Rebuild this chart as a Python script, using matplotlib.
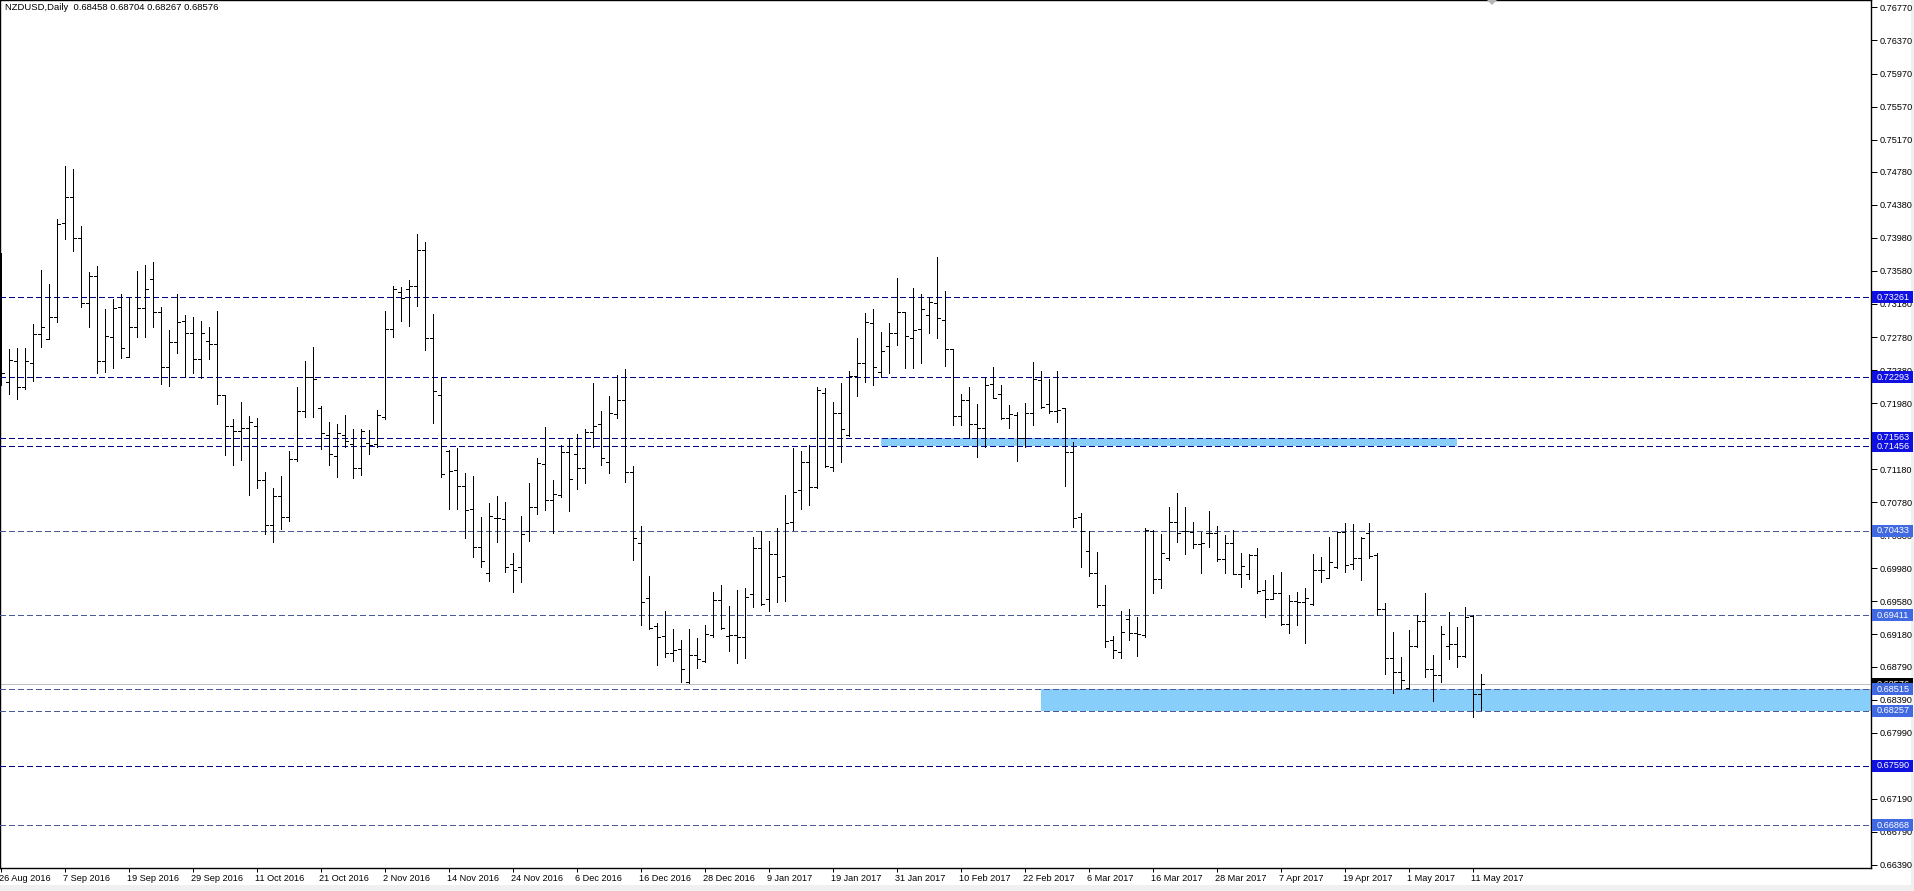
import matplotlib
matplotlib.use("Agg")
import matplotlib.pyplot as plt
import matplotlib.transforms as mtransforms
from matplotlib.collections import LineCollection
from matplotlib.patches import Rectangle, Polygon
import numpy as np

plt.rcParams['font.family'] = ['Liberation Sans', 'DejaVu Sans']

symbol = "NZDUSD,Daily"

# daily bars, 26 Aug 2016 .. 12 May 2017
opens = [
    0.72400, 0.72232, 0.72490, 0.72179, 0.72462, 0.72813, 0.72752, 0.73027, 0.74157, 0.74480,
    0.73975, 0.73196, 0.73519, 0.72490, 0.72785, 0.73140, 0.72534, 0.72898, 0.73128, 0.73479,
    0.73087, 0.72421, 0.72724, 0.72974, 0.72825, 0.72510, 0.72736, 0.72696, 0.72078, 0.71703,
    0.71642, 0.71675, 0.71700, 0.71050, 0.70500, 0.70850, 0.70600, 0.71300, 0.71884, 0.72300,
    0.71917, 0.71594, 0.71340, 0.71594, 0.71485, 0.71190, 0.71493, 0.71485, 0.71816, 0.72873,
    0.73321, 0.73358, 0.73398, 0.73834, 0.72764, 0.72078, 0.71404, 0.71170, 0.70980, 0.70694,
    0.70234, 0.69927, 0.70593, 0.70577, 0.70032, 0.69992, 0.70435, 0.70718, 0.71239, 0.70807,
    0.70867, 0.71384, 0.71360, 0.71190, 0.71630, 0.71723, 0.71263, 0.71848, 0.72018, 0.71150,
    0.70282, 0.69617, 0.69282, 0.69160, 0.68951, 0.68999, 0.68608, 0.68930, 0.68858, 0.69173,
    0.69596, 0.69160, 0.69173, 0.69144, 0.69669, 0.70222, 0.69604, 0.70149, 0.69887, 0.70537,
    0.70928, 0.71263, 0.70969, 0.72107, 0.71203, 0.71857, 0.71594, 0.72309, 0.72462, 0.72954,
    0.72353, 0.72676, 0.72825, 0.73079, 0.72772, 0.72873, 0.73046, 0.73188, 0.72982, 0.72631,
    0.71824, 0.72013, 0.71731, 0.71674, 0.72207, 0.72086, 0.71795, 0.71836, 0.71561, 0.71856,
    0.72259, 0.71965, 0.71884, 0.71916, 0.71392, 0.70605, 0.70189, 0.69919, 0.69535, 0.69111,
    0.68970, 0.69366, 0.69192, 0.69172, 0.70431, 0.69850, 0.70100, 0.70536, 0.70431, 0.70423,
    0.70270, 0.70403, 0.70403, 0.70088, 0.70290, 0.69907, 0.69907, 0.70141, 0.69717, 0.69608,
    0.69677, 0.69301, 0.69584, 0.69576, 0.69543, 0.69959, 0.69866, 0.70000, 0.70423, 0.70028,
    0.70100, 0.70411, 0.70141, 0.69483, 0.68890, 0.68720, 0.68526, 0.69039, 0.69342, 0.68757,
    0.68688, 0.69039, 0.69063, 0.68918, 0.69406, 0.68458,
]
highs = [
    0.73794, 0.72631, 0.72643, 0.72643, 0.72938, 0.73592, 0.73422, 0.74205, 0.74851, 0.74811,
    0.74125, 0.73564, 0.73640, 0.73120, 0.73241, 0.73301, 0.73261, 0.73580, 0.73652, 0.73685,
    0.73140, 0.72865, 0.73301, 0.73047, 0.73019, 0.72974, 0.72898, 0.73095, 0.72078, 0.71784,
    0.71998, 0.71824, 0.71800, 0.71150, 0.70950, 0.71100, 0.71400, 0.72179, 0.72490, 0.72663,
    0.71945, 0.71755, 0.71727, 0.71836, 0.71662, 0.71662, 0.71654, 0.71896, 0.73099, 0.73398,
    0.73390, 0.73471, 0.74027, 0.73935, 0.73059, 0.72300, 0.71412, 0.71440, 0.71130, 0.71097,
    0.70605, 0.70774, 0.70855, 0.70787, 0.70161, 0.70613, 0.71009, 0.71311, 0.71687, 0.71049,
    0.71473, 0.71553, 0.71606, 0.71662, 0.72219, 0.71889, 0.72066, 0.72321, 0.72389, 0.71219,
    0.70492, 0.69887, 0.69314, 0.69463, 0.69241, 0.69112, 0.69241, 0.69140, 0.69294, 0.69689,
    0.69778, 0.69524, 0.69717, 0.69738, 0.70363, 0.70432, 0.70315, 0.70472, 0.70868, 0.71433,
    0.71400, 0.71473, 0.72179, 0.72159, 0.71998, 0.72228, 0.72373, 0.72765, 0.73067, 0.73116,
    0.72841, 0.72946, 0.73491, 0.73087, 0.73377, 0.73297, 0.73268, 0.73745, 0.73337, 0.72635,
    0.72086, 0.72171, 0.71965, 0.72292, 0.72413, 0.72199, 0.71957, 0.71868, 0.71977, 0.72473,
    0.72368, 0.72272, 0.72368, 0.71924, 0.71505, 0.70645, 0.70435, 0.70173, 0.69777, 0.69164,
    0.69462, 0.69487, 0.69394, 0.70471, 0.70443, 0.70391, 0.70726, 0.70887, 0.70726, 0.70544,
    0.70423, 0.70674, 0.70492, 0.70383, 0.70444, 0.70169, 0.70149, 0.70222, 0.69838, 0.69899,
    0.69935, 0.69656, 0.69693, 0.69745, 0.70153, 0.70113, 0.70355, 0.70423, 0.70524, 0.70516,
    0.70355, 0.70532, 0.70161, 0.69556, 0.69204, 0.68902, 0.69233, 0.69414, 0.69677, 0.68930,
    0.69285, 0.69447, 0.69273, 0.69515, 0.69414, 0.68704,
]
lows = [
    0.72199, 0.72086, 0.72026, 0.72147, 0.72252, 0.72664, 0.72752, 0.72966, 0.73963, 0.73826,
    0.73140, 0.72898, 0.72341, 0.72361, 0.72401, 0.72530, 0.72534, 0.72785, 0.72777, 0.72906,
    0.72211, 0.72191, 0.72583, 0.72308, 0.72349, 0.72280, 0.72514, 0.71965, 0.71352, 0.71231,
    0.71291, 0.70868, 0.70950, 0.70400, 0.70300, 0.70450, 0.70550, 0.71283, 0.71816, 0.71808,
    0.71420, 0.71231, 0.71081, 0.71453, 0.71069, 0.71109, 0.71360, 0.71453, 0.71792, 0.72776,
    0.72978, 0.72914, 0.73160, 0.72623, 0.71743, 0.71081, 0.70694, 0.70694, 0.70343, 0.70121,
    0.69991, 0.69830, 0.70302, 0.69931, 0.69697, 0.69818, 0.70314, 0.70637, 0.70686, 0.70411,
    0.70839, 0.70678, 0.70936, 0.71009, 0.71444, 0.71231, 0.71138, 0.71796, 0.71029, 0.70081,
    0.69294, 0.69241, 0.68809, 0.68910, 0.68862, 0.68608, 0.68596, 0.68777, 0.68850, 0.69144,
    0.69241, 0.68983, 0.68838, 0.68890, 0.69516, 0.69536, 0.69467, 0.69576, 0.69584, 0.70444,
    0.70694, 0.70747, 0.70948, 0.71211, 0.71162, 0.71271, 0.71586, 0.72070, 0.72240, 0.72200,
    0.72300, 0.72349, 0.72684, 0.72409, 0.72409, 0.72461, 0.72833, 0.72772, 0.72433, 0.71715,
    0.71715, 0.71553, 0.71331, 0.71444, 0.72037, 0.71787, 0.71682, 0.71279, 0.71452, 0.71715,
    0.71916, 0.71856, 0.71755, 0.70980, 0.70484, 0.69999, 0.69890, 0.69515, 0.69031, 0.68889,
    0.68898, 0.69111, 0.68922, 0.69152, 0.69676, 0.69737, 0.70080, 0.70302, 0.70149, 0.70221,
    0.69927, 0.70242, 0.70072, 0.69919, 0.69907, 0.69757, 0.69846, 0.69685, 0.69386, 0.69604,
    0.69293, 0.69200, 0.69289, 0.69079, 0.69535, 0.69818, 0.69858, 0.69979, 0.69939, 0.69967,
    0.69838, 0.70100, 0.69414, 0.68700, 0.68474, 0.68518, 0.68518, 0.69031, 0.68660, 0.68377,
    0.68599, 0.68878, 0.68789, 0.68910, 0.68175, 0.68267,
]
closes = [
    0.72341, 0.72502, 0.72179, 0.72490, 0.72813, 0.72898, 0.73027, 0.74149, 0.74480, 0.73975,
    0.73196, 0.73519, 0.72490, 0.72797, 0.73128, 0.72643, 0.72898, 0.73128, 0.73358, 0.73087,
    0.72421, 0.72724, 0.72966, 0.72825, 0.72510, 0.72825, 0.72696, 0.72078, 0.71703, 0.71642,
    0.71675, 0.71755, 0.71050, 0.70500, 0.70850, 0.70600, 0.71300, 0.71884, 0.72300, 0.72268,
    0.71614, 0.71360, 0.71614, 0.71521, 0.71190, 0.71646, 0.71473, 0.71836, 0.72873, 0.73362,
    0.73249, 0.73398, 0.73834, 0.72764, 0.72127, 0.71122, 0.71158, 0.70980, 0.70686, 0.70234,
    0.70068, 0.70613, 0.70593, 0.70000, 0.69959, 0.70395, 0.70726, 0.71251, 0.70807, 0.70875,
    0.71384, 0.71061, 0.71190, 0.71630, 0.71707, 0.71312, 0.71857, 0.72018, 0.71150, 0.70343,
    0.69568, 0.69253, 0.69152, 0.68959, 0.68991, 0.68761, 0.68930, 0.68878, 0.69181, 0.69596,
    0.69253, 0.69173, 0.69144, 0.69637, 0.70230, 0.69544, 0.70149, 0.69879, 0.70525, 0.70908,
    0.71263, 0.70969, 0.72139, 0.71219, 0.71857, 0.71663, 0.72309, 0.72462, 0.72966, 0.72413,
    0.72611, 0.72825, 0.73079, 0.72796, 0.72865, 0.73119, 0.73200, 0.73014, 0.72631, 0.71828,
    0.72013, 0.71723, 0.71674, 0.72199, 0.72046, 0.71795, 0.71844, 0.71561, 0.71856, 0.72272,
    0.71937, 0.71884, 0.71896, 0.71392, 0.70593, 0.70435, 0.69919, 0.69535, 0.69099, 0.68990,
    0.69204, 0.69200, 0.69180, 0.70443, 0.69850, 0.70161, 0.70536, 0.70403, 0.70431, 0.70270,
    0.70290, 0.70411, 0.70088, 0.70290, 0.69907, 0.70012, 0.70141, 0.69709, 0.69608, 0.69677,
    0.69309, 0.69584, 0.69576, 0.69616, 0.69959, 0.69959, 0.70052, 0.70419, 0.70020, 0.70100,
    0.70343, 0.70133, 0.69483, 0.68890, 0.68720, 0.68627, 0.69039, 0.69342, 0.68757, 0.68688,
    0.69184, 0.69063, 0.68918, 0.69394, 0.68458, 0.68576,
]

date_labels = [
    "26 Aug 2016", "7 Sep 2016", "19 Sep 2016", "29 Sep 2016", "11 Oct 2016", "21 Oct 2016",
    "2 Nov 2016", "14 Nov 2016", "24 Nov 2016", "6 Dec 2016", "16 Dec 2016", "28 Dec 2016",
    "9 Jan 2017", "19 Jan 2017", "31 Jan 2017", "10 Feb 2017", "22 Feb 2017", "6 Mar 2017",
    "16 Mar 2017", "28 Mar 2017", "7 Apr 2017", "19 Apr 2017", "1 May 2017", "11 May 2017",
]
bars_per_label = 8

price_ticks = [
    0.76770, 0.76370, 0.75970, 0.75570, 0.75170, 0.74780, 0.74380, 0.73980, 0.73580,
    0.73180, 0.72780, 0.72380, 0.71980, 0.71580, 0.71180, 0.70780, 0.70380, 0.69980,
    0.69580, 0.69180, 0.68790, 0.68390, 0.67990, 0.67590, 0.67190, 0.66790, 0.66390,
]

levels_dark = [0.73261, 0.72293, 0.71563, 0.71456, 0.67590]
levels_light = [0.70433, 0.69411, 0.68515, 0.68257, 0.66868]

# zones: first bar, last bar (None = runs to the right edge), low, high
zone_start = [110, 130]
zone_end = [182, None]
zone_low = [0.71456, 0.68257]
zone_high = [0.71563, 0.68515]

W, H = 1915, 891
PLOT_W, PLOT_H = 1871, 868
BAR_PX = 8
PX = 0.72  # one pixel in points at 100 dpi

fig = plt.figure(figsize=(W / 100, H / 100), dpi=100)
fig.patch.set_facecolor('white')
ax = fig.add_axes([0, (H - PLOT_H) / H, PLOT_W / W, PLOT_H / H])
ax.set_facecolor('white')
x_left = -1 / BAR_PX
ax.set_xlim(x_left, x_left + PLOT_W / BAR_PX)
ax.set_ylim(0.663518, 0.768603)

n = len(opens)

# OHLC bars
segs = []
for i in range(n):
    segs.append([(i, lows[i]), (i, highs[i])])
    segs.append([(i - 0.36, opens[i]), (i, opens[i])])
    segs.append([(i, closes[i]), (i + 0.36, closes[i])])
ax.add_collection(LineCollection(segs, colors='black', linewidths=PX,
                                 antialiaseds=False, zorder=4))

# rectangles
xmax = ax.get_xlim()[1]
for x0, x1, lo, hi in zip(zone_start, zone_end, zone_low, zone_high):
    x1 = xmax + 1 if x1 is None else x1
    ax.add_patch(Rectangle((x0, lo), x1 - x0, hi - lo, facecolor='#87cefa',
                           edgecolor='none', zorder=1))

dash = (0, (5.5, 4))
for lvl in levels_dark:
    ax.axhline(lvl, color='#00008b', lw=PX, ls=dash, antialiased=False, zorder=3)
for lvl in levels_light:
    ax.axhline(lvl, color='#4a5a96', lw=PX, ls=dash, antialiased=False, zorder=3)
last_price = closes[-1]
ax.axhline(last_price, color='#c0c0c0', lw=PX, antialiased=False, zorder=2)

for s in ax.spines.values():
    s.set_color('black')
    s.set_linewidth(1)

ax.yaxis.tick_right()
ax.set_yticks(price_ticks)
ax.set_yticklabels([f"{v:.5f}" for v in price_ticks])
ax.tick_params(axis='y', direction='out', length=4, width=PX, pad=2,
               labelsize=6.6, colors='black')

ax.set_xticks(np.arange(0, bars_per_label * len(date_labels), bars_per_label))
ax.set_xticklabels(date_labels)
ax.tick_params(axis='x', direction='out', length=3, width=PX, pad=1,
               labelsize=6.6, colors='black')
shift = mtransforms.ScaledTranslation(-2 / 100, 0, fig.dpi_scale_trans)
for lab in ax.get_xticklabels():
    lab.set_ha('left')
    lab.set_transform(lab.get_transform() + shift)

# price labels on the right scale
tags = [(v, '#1010e0') for v in levels_dark] + [(v, '#4169e1') for v in levels_light]
tags.append((last_price, '#000000'))
tags.sort(key=lambda t: -t[0])
for k, (v, face) in enumerate(tags):
    y = ax.transData.transform((0, v))[1]
    fig.add_artist(Rectangle((1872 / W, (y - 6) / H), 41 / W, 12 / H,
                             transform=fig.transFigure, facecolor=face,
                             edgecolor='none', zorder=10 + 2 * k))
    fig.text(1877 / W, y / H, f"{v:.5f}", color='white', fontsize=6.6,
             va='center', ha='left', zorder=11 + 2 * k)

title = f"{symbol}  {opens[-1]:.5f} {highs[-1]:.5f} {lows[-1]:.5f} {closes[-1]:.5f}"
fig.text(5 / W, 1 - 8 / H, title, fontsize=6.8, va='center', ha='left', zorder=5)

# chart shift marker and window edges
fig.add_artist(Polygon([[1487 / W, 1.0], [1497 / W, 1.0], [1492 / W, 1 - 5 / H]],
                       closed=True, transform=fig.transFigure,
                       facecolor='#b4b4b4', edgecolor='none', zorder=6))
fig.add_artist(Rectangle((0, 0), 1, 6 / H, transform=fig.transFigure,
                         facecolor='#f0f0f0', edgecolor='none', zorder=0))
fig.add_artist(Rectangle((1911 / W, 0), 4 / W, 1, transform=fig.transFigure,
                         facecolor='#f0f0f0', edgecolor='none', zorder=0))

fig.savefig("out.png", dpi=100, facecolor='white')
